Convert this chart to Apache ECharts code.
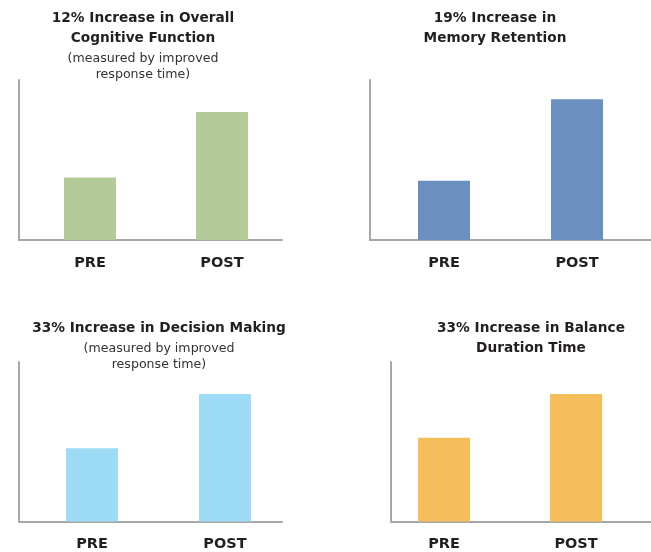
<!DOCTYPE html>
<html>
<head>
<meta charset="utf-8">
<script src="https://cdn.jsdelivr.net/npm/echarts@6/dist/echarts.min.js"></script>
<style>
  html, body { margin: 0; padding: 0; background: #ffffff; }
  #chart { width: 651px; height: 552px; }
</style>
</head>
<body>
<div id="chart"></div>
<script>
// Pre / post results for four outcome measures
const categories = ['PRE', 'POST'];
const cognitiveValues = [39, 80];
const memoryValues = [37, 88];
const decisionValues = [46, 80];
const balanceValues = [52.5, 80];

const panelTitles = [
  '12% Increase in Overall\nCognitive Function',
  '19% Increase in\nMemory Retention',
  '33% Increase in Decision Making',
  '33% Increase in Balance\nDuration Time'
];
const panelSubtitles = [
  '(measured by improved\nresponse time)',
  '',
  '(measured by improved\nresponse time)',
  ''
];

const FONT = 'DejaVu Sans';
const TEXT_DARK = '#231f20';
const AXIS_GREY = '#a7a7a7';
const barColors = ['#b2cb99', '#6b8fbf', '#9edbf6', '#f6bd5b'];
const panelValues = [cognitiveValues, memoryValues, decisionValues, balanceValues];

// Layout of each small chart: plot box plus where the two bars sit along x
const panels = [
  { grid: { left: 19, right: 369, top: 80, bottom: 312 }, xMin: -0.538, xMax: 1.455, titleX: 143, titleY: 8 },
  { grid: { left: 370, right: 0, top: 80, bottom: 312 }, xMin: -0.556, xMax: 1.556, titleX: 495, titleY: 8 },
  { grid: { left: 19, right: 369, top: 362, bottom: 30 }, xMin: -0.549, xMax: 1.429, titleX: 159, titleY: 318 },
  { grid: { left: 391, right: 0, top: 362, bottom: 30 }, xMin: -0.402, xMax: 1.568, titleX: 531, titleY: 318 }
];

const option = {
  animation: false,
  backgroundColor: '#ffffff',
  title: panels.map((p, i) => ({
    text: panelTitles[i],
    subtext: panelSubtitles[i],
    left: p.titleX,
    top: p.titleY,
    textAlign: 'center',
    padding: 0,
    itemGap: 3,
    textStyle: { fontFamily: FONT, fontWeight: 'bold', fontSize: 13.7, lineHeight: 20, color: TEXT_DARK },
    subtextStyle: { fontFamily: FONT, fontWeight: 'normal', fontSize: 12.6, lineHeight: 16, color: '#333333' }
  })),
  grid: panels.map(p => p.grid),
  xAxis: panels.map((p, i) => ({
    type: 'value',
    gridIndex: i,
    min: p.xMin,
    max: p.xMax,
    axisLine: { show: true, onZero: false, lineStyle: { color: AXIS_GREY, width: 2 } },
    axisTick: { show: false },
    splitLine: { show: false },
    axisLabel: {
      customValues: [0, 1],
      formatter: v => categories[Math.round(v)],
      margin: 15.5,
      fontFamily: FONT,
      fontWeight: 'bold',
      fontSize: 14.5,
      color: TEXT_DARK
    }
  })),
  yAxis: panels.map((p, i) => ({
    type: 'value',
    gridIndex: i,
    min: 0,
    max: 100,
    axisLine: { show: true, onZero: false, lineStyle: { color: AXIS_GREY, width: 2 } },
    axisTick: { show: false },
    axisLabel: { show: false },
    splitLine: { show: false }
  })),
  series: panelValues.map((vals, i) => ({
    type: 'bar',
    xAxisIndex: i,
    yAxisIndex: i,
    barWidth: 52,
    itemStyle: { color: barColors[i] },
    data: categories.map((c, k) => [k, vals[k]])
  }))
};

const chart = echarts.init(document.getElementById('chart'), null, { renderer: 'canvas' });
chart.setOption(option);
</script>
</body>
</html>
